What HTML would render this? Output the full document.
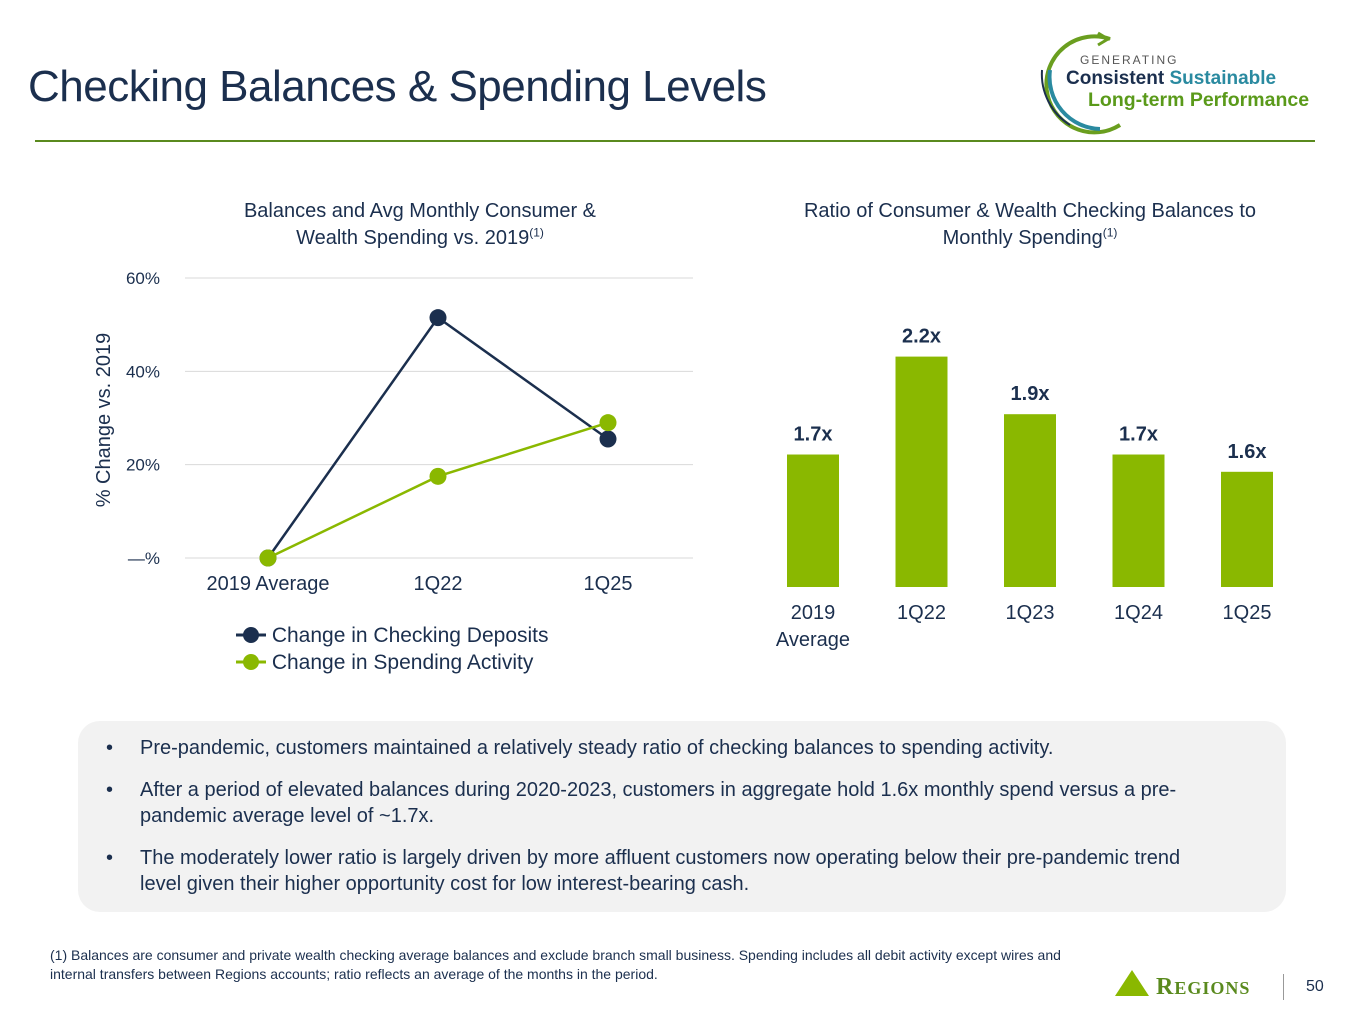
<!DOCTYPE html>
<html><head><meta charset="utf-8"><style>
body{margin:0;width:1365px;height:1024px;background:#fff;font-family:"Liberation Sans",sans-serif;position:relative;overflow:hidden}
.a{position:absolute}
sup{line-height:0}
</style></head><body>
<div class="a" style="left:28px;top:62px;font-size:44px;color:#1b2f4e;letter-spacing:-0.5px">Checking Balances &amp; Spending Levels</div>
<div class="a" style="left:35px;top:140px;width:1280px;height:2px;background:#5a8a1e"></div>
<div class="a" style="left:1030px;top:25px;width:300px;height:110px">
<svg width="300" height="110"><path d="M80 14 A48 48 0 1 0 90 100" fill="none" stroke="#6a9e1f" stroke-width="4"/><path d="M68 8 L78 14 L68 20" fill="none" stroke="#6a9e1f" stroke-width="3"/><path d="M20 45 A52 52 0 0 0 70 104" fill="none" stroke="#2a8aa0" stroke-width="4"/><path d="M12 45 A60 60 0 0 0 40 100" fill="none" stroke="#1b2f4e" stroke-width="2"/></svg>
<div class="a" style="left:50px;top:28px;font-size:12px;color:#555;letter-spacing:2px">GENERATING</div>
<div class="a" style="left:36px;top:43px;font-size:19px;font-weight:bold;color:#1b2f4e;white-space:nowrap">Consistent <span style="color:#2a8aa0">Sustainable</span></div>
<div class="a" style="left:58px;top:64px;font-size:19.5px;font-weight:bold;color:#5a9a1a;white-space:nowrap">Long-term Performance</div>
</div>
<div class="a" style="left:180px;top:198px;width:480px;text-align:center;font-size:20px;color:#1b2f4e;line-height:27px">Balances and Avg Monthly Consumer &amp;<br>Wealth Spending vs. 2019<sup style="font-size:12px">(1)</sup></div>
<div class="a" style="left:760px;top:198px;width:540px;text-align:center;font-size:20px;color:#1b2f4e;line-height:27px">Ratio of Consumer &amp; Wealth Checking Balances to<br>Monthly Spending<sup style="font-size:12px">(1)</sup></div>
<svg class="a" style="left:0;top:0" width="1365" height="700" id="charts"></svg>
<div class="a" style="left:236px;top:624px;font-size:21px;color:#1b2f4e"><svg width="30" height="20" style="vertical-align:-3px"><line x1="0" y1="10" x2="30" y2="10" stroke="#1b2f4e" stroke-width="3"/><circle cx="15" cy="10" r="8" fill="#1b2f4e"/></svg> Change in Checking Deposits</div>
<div class="a" style="left:236px;top:651px;font-size:21px;color:#1b2f4e"><svg width="30" height="20" style="vertical-align:-3px"><line x1="0" y1="10" x2="30" y2="10" stroke="#8ab800" stroke-width="3"/><circle cx="15" cy="10" r="8" fill="#8ab800"/></svg> Change in Spending Activity</div>
<div class="a" style="left:78px;top:721px;width:1208px;height:191px;background:#f2f2f2;border-radius:22px;font-size:20px;color:#1b2f4e;line-height:26px">
<div class="a" style="left:28px;top:14px">•</div><div class="a" style="left:62px;top:14px;width:1120px">Pre-pandemic, customers maintained a relatively steady ratio of checking balances to spending activity.</div>
<div class="a" style="left:28px;top:56px">•</div><div class="a" style="left:62px;top:56px;width:1120px">After a period of elevated balances during 2020-2023, customers in aggregate hold 1.6x monthly spend versus a pre-pandemic average level of ~1.7x.</div>
<div class="a" style="left:28px;top:124px">•</div><div class="a" style="left:62px;top:124px;width:1080px">The moderately lower ratio is largely driven by more affluent customers now operating below their pre-pandemic trend level given their higher opportunity cost for low interest-bearing cash.</div>
</div>
<div class="a" style="left:50px;top:946px;width:1035px;font-size:14px;color:#1b2f4e;line-height:19px">(1) Balances are consumer and private wealth checking average balances and exclude branch small business. Spending includes all debit activity except wires and internal transfers between Regions accounts; ratio reflects an average of the months in the period.</div>
<div class="a" style="left:1115px;top:970px;white-space:nowrap"><svg width="34" height="26" style="vertical-align:-2px"><polygon points="0,26 17,0 34,26" fill="#8ab800"/></svg><span style="font-family:'Liberation Serif',serif;font-size:24px;color:#5a8a1e;font-weight:bold;letter-spacing:1px"> R<span style="font-size:18px">EGIONS</span></span></div>
<div class="a" style="left:1283px;top:974px;width:1px;height:26px;background:#999"></div>
<div class="a" style="left:1306px;top:978px;font-size:16px;color:#1b2f4e">50</div>
<script>
const lineCats=["2019 Average","1Q22","1Q25"];
const deposits=[0,51.5,25.5];
const spending=[0,17.5,29];
const yTicks=[0,20,40,60];
const yTickLabels=["—%","20%","40%","60%"];
const barCats=["2019|Average","1Q22","1Q23","1Q24","1Q25"];
const ratios=[1.69,2.2,1.9,1.69,1.6];
const ratioLabels=["1.7x","2.2x","1.9x","1.7x","1.6x"];
const svg=document.getElementById('charts');const NS='http://www.w3.org/2000/svg';
function mk(t,a,txt){const e=document.createElementNS(NS,t);for(const k in a)e.setAttribute(k,a[k]);if(txt!=null)e.textContent=txt;svg.appendChild(e);return e;}
const ly=v=>558-v*(280/60);const lx=i=>268+i*170;
yTicks.forEach((t,i)=>{const g=mk('line',{x1:185,x2:693,y1:ly(t),y2:ly(t),stroke:'#d9d9d9','stroke-width':1});


const l=mk('text',{x:160,y:ly(t)+6,'text-anchor':'end','font-size':17,fill:'#1b2f4e'},yTickLabels[i]);

});
lineCats.forEach((c,i)=>{const l=mk('text',{x:lx(i),y:590,'text-anchor':'middle','font-size':20,fill:'#1b2f4e'},c);

});
const yt=mk('text',{x:0,y:0,transform:'translate(110,420) rotate(-90)','text-anchor':'middle','font-size':20,fill:'#1b2f4e'},'% Change vs. 2019');


[[deposits,'#1b2f4e','deposits'],[spending,'#8ab800','spending']].forEach(([d,c,n])=>{
const p=mk('polyline',{points:d.map((v,i)=>lx(i)+','+ly(v)).join(' '),fill:'none',stroke:c,'stroke-width':2.5});


d.forEach((v,i)=>{const m=mk('circle',{cx:lx(i),cy:ly(v),r:8.5,fill:c});

});});
const by=v=>587-(v-1.0)*192;const bx=i=>813+i*108.5;
ratios.forEach((v,i)=>{const r=mk('rect',{x:bx(i)-26,y:by(v),width:52,height:587-by(v),fill:'#8ab800'});


const t=mk('text',{x:bx(i),y:by(v)-14,'text-anchor':'middle','font-size':20,'font-weight':'bold',fill:'#1b2f4e'},ratioLabels[i]);


barCats[i].split('|').forEach((s,j)=>{const l=mk('text',{x:bx(i),y:619+j*27,'text-anchor':'middle','font-size':20,fill:'#1b2f4e'},s);

});});
</script>
</body></html>
